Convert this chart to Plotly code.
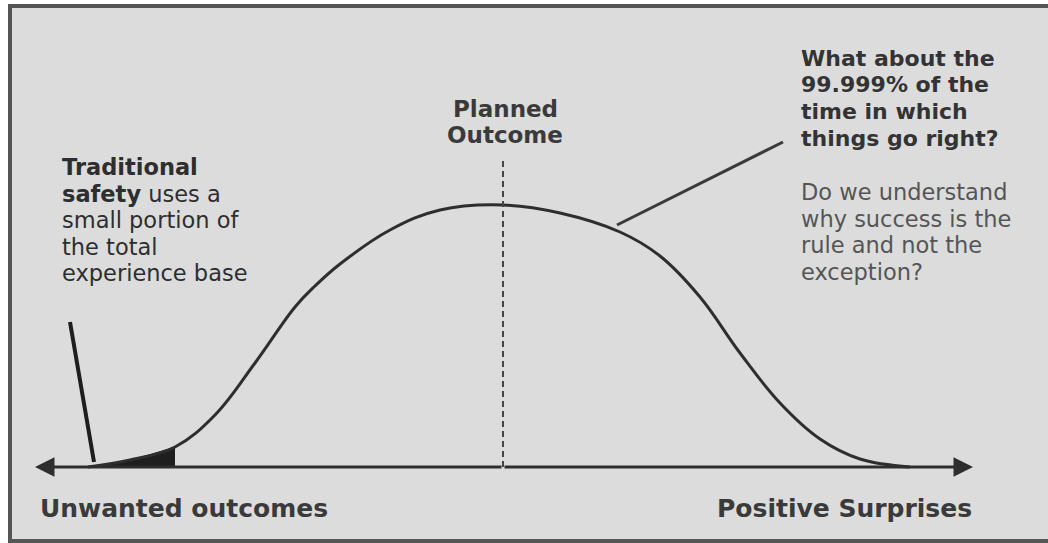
import plotly.graph_objects as go

# Curve: position along the outcome axis and height above it
outcome_x = [88, 130, 175, 215, 255, 295, 315, 340, 390, 440, 503,
             560, 620, 660, 700, 740, 780, 820, 860, 910]
frequency = [0, 7, 20, 52, 104, 160, 181, 203, 237, 257, 262,
             254, 235, 211, 170, 114, 64, 28, 8, 0]

tail_end = 175          # end of the small portion used by traditional safety
axis_left, axis_right = 35, 973
axis_labels = ["Unwanted outcomes", "Positive Surprises"]

left_note = ["<b>Traditional</b>", "<b>safety</b> uses a", "small portion of",
             "the total", "experience base"]
right_question = ["What about the", "99.999% of the", "time in which", "things go right?"]
right_note = ["Do we understand", "why success is the", "rule and not the", "exception?"]
peak_label = ["Planned", "Outcome"]

BG = "#dcdcdc"
INK = "#2e2e2e"
FONT = "DejaVu Sans"
BASE = 467  # pixel row of the horizontal axis


def text_block(lines, x, top_px, step, anchor, size, color, bold=False):
    out = []
    for i, line in enumerate(lines):
        out.append(dict(
            x=x, y=BASE - (top_px + i * step), xref="x", yref="y",
            text=f"<b>{line}</b>" if bold else line, showarrow=False,
            xanchor=anchor, yanchor="middle",
            font=dict(family=FONT, size=size, color=color),
        ))
    return out


fig = go.Figure()

# small shaded tail on the left
tail_x = [x for x in outcome_x if x <= tail_end]
tail_y = frequency[:len(tail_x)]
fig.add_trace(go.Scatter(
    x=tail_x, y=tail_y, mode="lines", line=dict(color="#1e1e1e", width=1, shape="spline"),
    fill="tozeroy", fillcolor="#1e1e1e", hoverinfo="skip",
))

# the bell curve
fig.add_trace(go.Scatter(
    x=outcome_x, y=frequency, mode="lines",
    line=dict(color=INK, width=3, shape="spline", smoothing=1.1),
    hoverinfo="skip",
))

peak_x = outcome_x[frequency.index(max(frequency))]

shapes = [
    # frame
    dict(type="rect", xref="x", yref="y", x0=10, x1=1070, y0=-74, y1=461,
         fillcolor=BG, line=dict(color="#555555", width=4), layer="below"),
    # planned outcome marker
    dict(type="line", xref="x", yref="y", x0=peak_x, x1=peak_x, y0=0, y1=310,
         line=dict(color="#444444", width=2, dash="6px,4px")),
    # pointer to the tail
    dict(type="line", xref="x", yref="y", x0=70, y0=145, x1=94, y1=5,
         line=dict(color="#1e1e1e", width=4)),
    # pointer to the body of the curve
    dict(type="line", xref="x", yref="y", x0=617, y0=242, x1=783, y1=325,
         line=dict(color="#3a3a3a", width=3)),
]

annotations = []
# horizontal axis with arrowheads at both ends
for tip in (axis_left, axis_right):
    annotations.append(dict(
        x=tip, y=0, ax=peak_x, ay=0, xref="x", yref="y", axref="x", ayref="y",
        text="", showarrow=True, arrowhead=2, arrowsize=1.3, arrowwidth=3,
        arrowcolor=INK,
    ))

annotations += text_block(axis_labels[:1], 38, 508, 0, "left", 25, "#3a3a3a", bold=True)
annotations += text_block(axis_labels[1:], 974, 508, 0, "right", 25, "#3a3a3a", bold=True)
annotations += text_block(peak_label, 505, 109, 26, "center", 23, "#3a3a3a", bold=True)
annotations += text_block(left_note, 60, 167, 26.5, "left", 22.5, INK)
annotations += text_block(right_question, 799, 58, 26.7, "left", 22, "#333333", bold=True)
annotations += text_block(right_note, 799, 192, 26.7, "left", 22.5, "#555555")

fig.update_layout(
    width=1048, height=543,
    margin=dict(l=0, r=0, t=0, b=0),
    paper_bgcolor="white", plot_bgcolor="white",
    showlegend=False,
    xaxis=dict(range=[0, 1048], visible=False, fixedrange=True),
    yaxis=dict(range=[-76, 467], visible=False, fixedrange=True),
    shapes=shapes,
    annotations=annotations,
)

fig.write_html("out.html", config={"displayModeBar": False},
               post_script="document.body.style.margin='0';document.body.style.overflow='hidden';")
